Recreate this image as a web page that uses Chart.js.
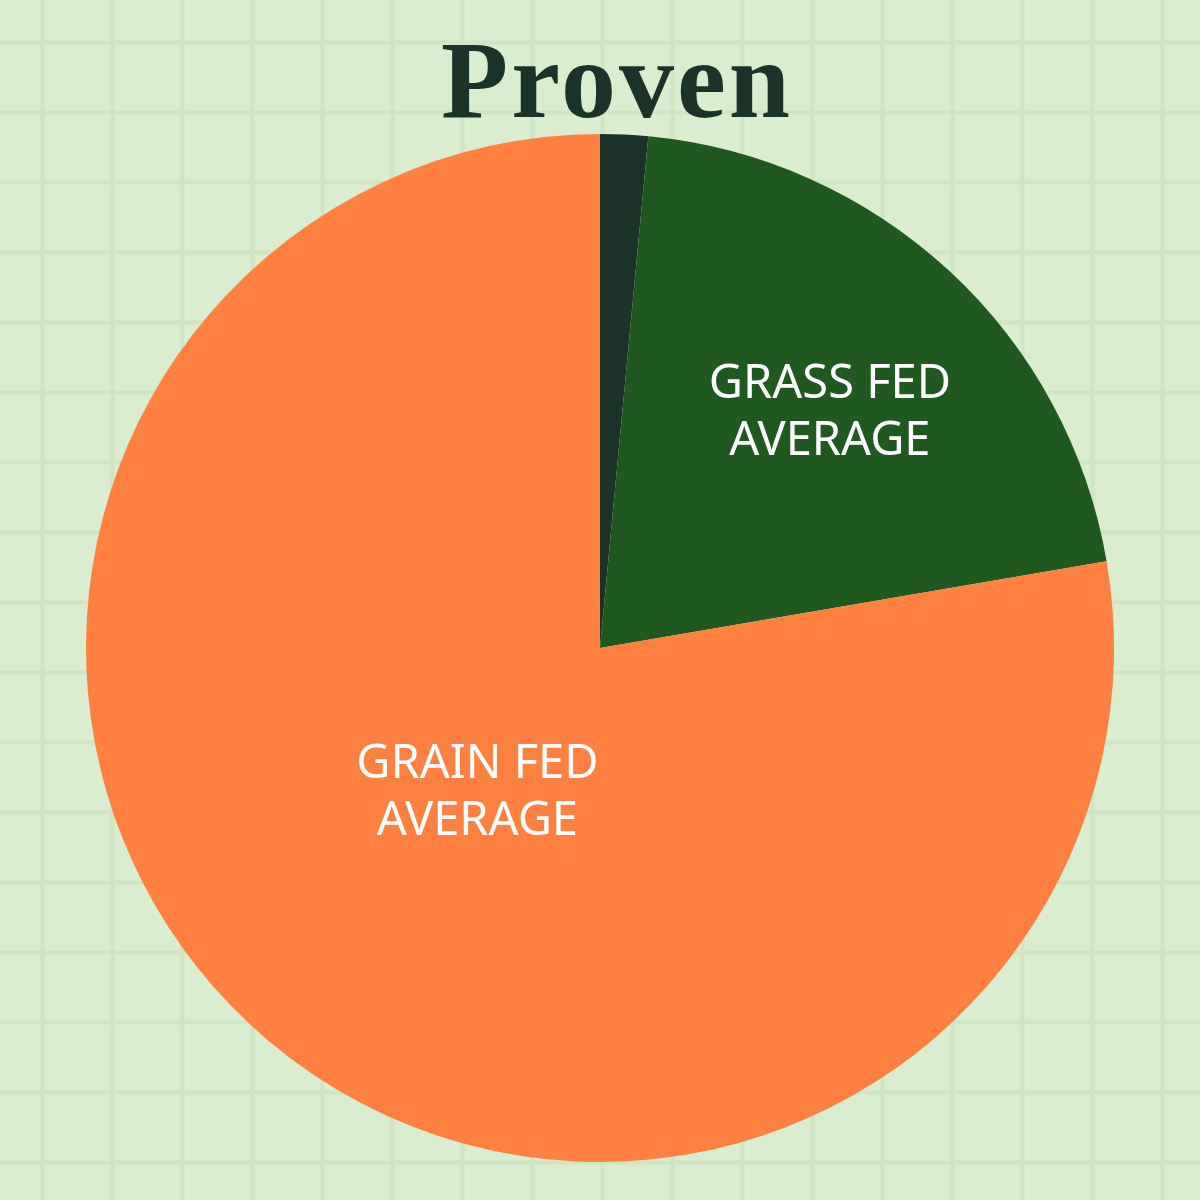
<!DOCTYPE html>
<html>
<head>
<meta charset="utf-8">
<script src="https://cdn.jsdelivr.net/npm/chart.js@4"></script>
<style>
  html, body { margin: 0; padding: 0; background: #daedce; }
  #wrap { width: 1200px; height: 1200px; position: relative; }
</style>
</head>
<body>
<div id="wrap"><canvas id="pieChart"></canvas></div>
<script>
// data (percent of the circle, clockwise from 12 o'clock)
var categories = ["Other", "GRASS FED AVERAGE", "GRAIN FED AVERAGE"];
var shares = [1.5, 20.8, 77.7];
var sliceColors = ["#1c3329", "#1f5920", "#ff8040"];
var labelLines = [[], ["GRASS FED", "AVERAGE"], ["GRAIN FED", "AVERAGE"]];
var logoText = "Proven";

// where a label sits along the slice radius (0 = centre, 1 = rim), and a small turn in degrees
var labelRadius = [0, 0.64, 0.37];
var labelTurn = [0, 1.5, 0];

var backdrop = {
  id: "backdrop",
  beforeDraw: function (chart) {
    var ctx = chart.ctx;
    var w = chart.width, h = chart.height;
    ctx.save();
    ctx.fillStyle = "#daedce";
    ctx.fillRect(0, 0, w, h);
    ctx.strokeStyle = "#d0e5c3";
    ctx.lineWidth = 4;
    for (var x = 42.5; x < w; x += 70) {
      ctx.beginPath();
      ctx.moveTo(x, 0);
      ctx.lineTo(x, h);
      ctx.stroke();
    }
    for (var y = 42.5; y < h; y += 70) {
      ctx.beginPath();
      ctx.moveTo(0, y);
      ctx.lineTo(w, y);
      ctx.stroke();
    }
    ctx.restore();
  },
};

var sliceLabels = {
  id: "sliceLabels",
  afterDatasetsDraw: function (chart) {
    var ctx = chart.ctx;
    var arcs = chart.getDatasetMeta(0).data;
    ctx.save();
    ctx.fillStyle = "#ffffff";
    ctx.font = "400 47px 'Noto Sans'";
    ctx.textAlign = "center";
    ctx.textBaseline = "middle";
    arcs.forEach(function (arc, i) {
      var lines = labelLines[i];
      if (!lines.length) return;
      var p = arc.getProps(["x", "y", "startAngle", "endAngle", "outerRadius"], true);
      var mid = (p.startAngle + p.endAngle) / 2 + labelTurn[i] * Math.PI / 180;
      var r = p.outerRadius * labelRadius[i];
      var cx = p.x + Math.cos(mid) * r;
      var cy = p.y + Math.sin(mid) * r;
      var lh = 57;
      lines.forEach(function (t, k) {
        ctx.fillText(t, cx, cy + (k - (lines.length - 1) / 2) * lh);
      });
    });

    // logo
    ctx.fillStyle = "#1c3329";
    ctx.font = "bold 110px 'Liberation Serif'";
    ctx.letterSpacing = "3px";
    ctx.textBaseline = "alphabetic";
    ctx.fillText(logoText, 617, 117);
    ctx.restore();
  },
};

var ctx = document.getElementById("pieChart").getContext("2d");
var pieChart = new Chart(ctx, {
  type: "pie",
  data: {
    labels: categories,
    datasets: [
      {
        data: shares,
        backgroundColor: sliceColors,
        borderWidth: 0,
      },
    ],
  },
  options: {
    responsive: true,
    maintainAspectRatio: false,
    animation: false,
    layout: { padding: { top: 134, bottom: 38, left: 0, right: 0 } },
    plugins: {
      legend: { display: false },
      tooltip: { enabled: false },
      title: { display: false },
    },
  },
  plugins: [backdrop, sliceLabels],
});
</script>
</body>
</html>
